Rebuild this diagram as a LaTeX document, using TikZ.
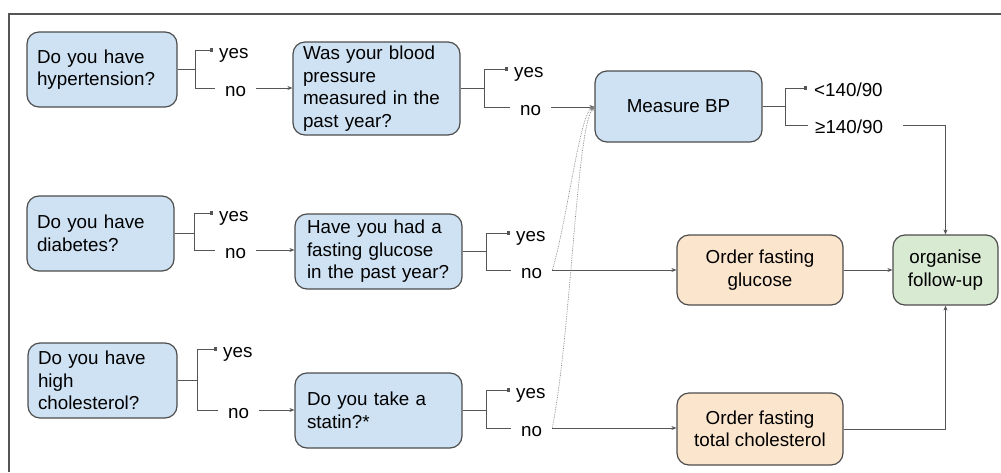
\documentclass[tikz,border=0pt]{standalone}
\usepackage{fontspec}
\setmainfont{Liberation Sans}
\usetikzlibrary{arrows.meta}
\definecolor{qblue}{HTML}{CFE2F3}
\definecolor{qorange}{HTML}{FCE5CD}
\definecolor{qgreen}{HTML}{D9EAD3}
\definecolor{edgecol}{HTML}{4D4D4D}
\definecolor{conncol}{HTML}{555555}
\begin{document}
\begin{tikzpicture}[x=1pt,y=-1pt,
  font=\fontsize{18.8}{22.5}\selectfont,
  box/.style={draw=edgecol, line width=1.2pt, rounded corners=12pt, inner sep=0pt},
  qbox/.style={box, fill=qblue, align=left},
  cbox/.style={box, align=center},
  lab/.style={inner ysep=0pt, text height=16pt, text depth=0pt, anchor=west},
  yeslab/.style={lab, inner xsep=6pt},
  nolab/.style={lab, inner xsep=10pt},
  conn/.style={draw=conncol, line width=0.9pt},
  arr/.style={conn, -{Stealth[length=5pt,width=4pt]}},
  dotend/.style={conn, -{Square[length=3.2pt,width=3.2pt]}},
  dotcurve/.style={draw=gray, line width=0.7pt, densely dotted, -{Stealth[length=5pt,width=4pt]}}
]
\useasboundingbox (0,0) rectangle (1001,472);
\fill[white] (0,0) rectangle (1001,472);
% frame
\draw[line width=2pt, color=conncol] (1001,14) -- (9,14) -- (9,472);

% row 1
\node[qbox, minimum width=150, minimum height=75, text width=130] (q1) at (102,69.5) {Do you have\\hypertension?};
\node[yeslab] (yes1) at (213,50) {yes};
\node[nolab] (no1) at (215,88) {no};
\node[qbox, minimum width=167, minimum height=93, text width=147] (q2) at (376.5,88.5) {Was your blood\\pressure\\measured in the\\past year?};
\node[yeslab] (yes2) at (508,69) {yes};
\node[nolab] (no2) at (510,107) {no};
\node[cbox, fill=qblue, minimum width=167, minimum height=71] (bp) at (678.5,106.5) {Measure BP};
\node[lab, inner xsep=7pt] (lt) at (807,88) {<140/90};
\node[lab, inner xsep=7pt] (ge) at (808,125) {≥140/90};
\node[cbox, fill=qgreen, minimum width=105, minimum height=70] (fu) at (945.5,270) {organise\\follow-up};

% row 2
\node[qbox, minimum width=147, minimum height=75, text width=127] (q4) at (100.5,233.5) {Do you have\\diabetes?};
\node[yeslab] (yes4) at (213,213) {yes};
\node[nolab] (no4) at (215,250) {no};
\node[qbox, minimum width=167, minimum height=75, text width=143] (q5) at (378.5,251.5) {Have you had a\\fasting glucose\\in the past year?};
\node[yeslab] (yes5) at (510,233) {yes};
\node[nolab] (no5) at (511,270) {no};
\node[cbox, fill=qorange, minimum width=166, minimum height=70] (og) at (760,270) {Order fasting\\glucose};

% row 3
\node[qbox, minimum width=149, minimum height=75, text width=129] (q6) at (102.5,380.5) {Do you have\\high\\cholesterol?};
\node[yeslab] (yes6) at (217,349) {yes};
\node[nolab] (no6) at (218,410) {no};
\node[qbox, minimum width=167, minimum height=75, text width=143] (q7) at (378.5,410.5) {Do you take a\\statin?*};
\node[yeslab] (yes7) at (510,390) {yes};
\node[nolab] (no7) at (511,428) {no};
\node[cbox, fill=qorange, minimum width=166, minimum height=72] (oc) at (760,429) {Order fasting\\total cholesterol};

% brackets
\draw[conn] (q1.east) -- ++(18,0) coordinate (j1);
\draw[dotend] (j1) |- (yes1.west);
\draw[conn] (j1) |- (no1.west);
\draw[arr] (no1.east) -- (no1.east -| q2.west);

\draw[conn] (q2.east) -- ++(24,0) coordinate (j2);
\draw[dotend] (j2) |- (yes2.west);
\draw[conn] (j2) |- (no2.west);
\draw[arr] (no2.east) -- (no2.east -| bp.west);

\draw[conn] (bp.east) -- ++(23,0) coordinate (j3);
\draw[dotend] (j3) |- (lt.west);
\draw[conn] (j3) |- (ge.west);
\draw[arr] ([xshift=13pt]ge.east) -| (fu.north);

\draw[conn] (q4.east) -- ++(20,0) coordinate (j4);
\draw[dotend] (j4) |- (yes4.west);
\draw[conn] (j4) |- (no4.west);
\draw[arr] (no4.east) -- (no4.east -| q5.west);

\draw[conn] (q5.east) -- ++(24,0) coordinate (j5);
\draw[dotend] (j5) |- (yes5.west);
\draw[conn] (j5) |- (no5.west);
\draw[arr] (no5.east) -- (no5.east -| og.west);
\draw[arr] (og.east) -- (fu.west);

\draw[conn] (q6.east) -- ++(20,0) coordinate (j6);
\draw[dotend] (j6) |- (yes6.west);
\draw[conn] (j6) |- (no6.west);
\draw[arr] (no6.east) -- (no6.east -| q7.west);

\draw[conn] (q7.east) -- ++(24,0) coordinate (j7);
\draw[dotend] (j7) |- (yes7.west);
\draw[conn] (j7) |- (no7.west);
\draw[arr] (no7.east) -- (no7.east -| oc.west);
\draw[arr] (oc.east) -| (fu.south);

% dotted curves
\draw[dotcurve] (no5.east) .. controls +(15,-50) and +(-15,8) .. (bp.west);
\draw[dotcurve] (no7.east) .. controls +(19,-98) and +(-18,23) .. (bp.west);
\end{tikzpicture}
\end{document}
